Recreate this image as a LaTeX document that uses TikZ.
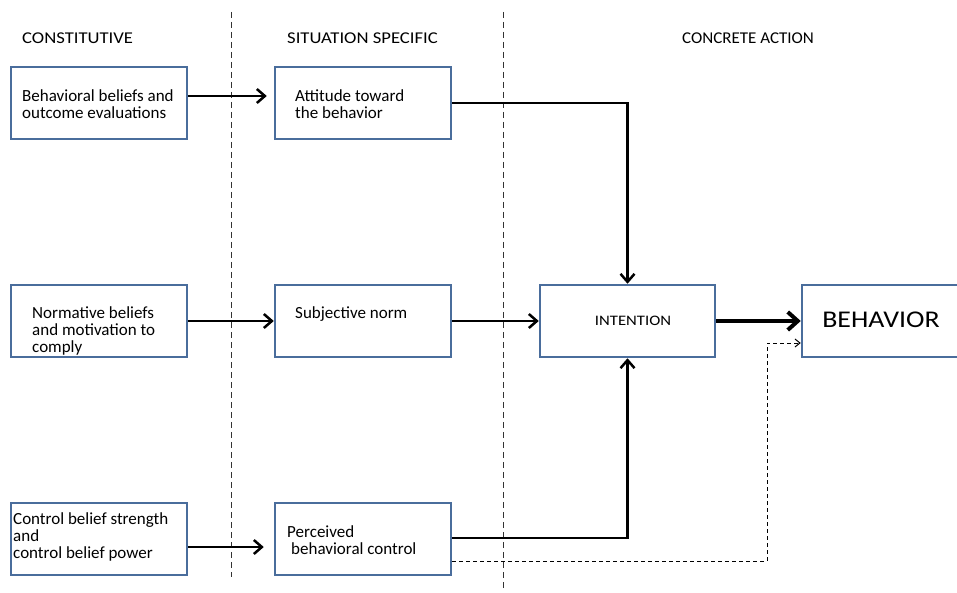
\documentclass[tikz,border=0pt]{standalone}
\usepackage{fontspec}
\setmainfont{Carlito}
\usetikzlibrary{arrows.meta}
\definecolor{boxblue}{HTML}{4A6D9C}
\definecolor{divgray}{HTML}{333333}
\newcommand{\wcaps}[1]{\scalebox{1.13}[1]{#1}}
\begin{document}
\begin{tikzpicture}[x=1pt,y=-1pt,
  box/.style={draw=boxblue, line width=2.5pt, minimum width=176pt, minimum height=72pt, inner sep=0pt},
  txt/.style={anchor=west, align=left, inner sep=0pt, font=\fontsize{17}{17}\selectfont},
  hdr/.style={anchor=west, inner sep=0pt, font=\fontsize{16.5}{17}\selectfont},
  conn/.style={line width=2.5pt, -{Straight Barb[length=8pt,width=14pt]}},
  bigconn/.style={line width=4pt, -{Straight Barb[length=10pt,width=18pt]}},
  dconn/.style={line width=1pt, dash pattern=on 4pt off 3pt, -{Straight Barb[length=5pt,width=8pt]}},
  divider/.style={line width=1pt, draw=divgray, dash pattern=on 6pt off 4pt}
]
\useasboundingbox (0,0) rectangle (957,593);

% dividers
\draw[divider] (231,12) -- (231,577);
\draw[divider] (503,12) -- (503,591);

% headers
\node[hdr] (h1) at (22,38) {\wcaps{CONSTITUTIVE}};
\node[hdr] (h2) at (287,38) {\wcaps{SITUATION SPECIFIC}};
\node[hdr] (h3) at (682,38) {\scalebox{1.03}[1]{CONCRETE ACTION}};

% boxes
\node[box] (B1) at (99,103) {};
\node[box] (A1) at (363,103) {};
\node[box] (B2) at (99,321) {};
\node[box] (A2) at (363,321) {};
\node[box] (B3) at (99,539) {};
\node[box] (A3) at (363,539) {};
\node[box, minimum width=175pt] (INT) at (627.5,321) {};
\node[box, minimum width=162pt] (BEH) at (883,321) {};

% texts
\node[txt] (tB1) at (22,104) {Behavioral beliefs and\\outcome evaluations};
\node[txt] (tA1) at (295,104) {Attitude toward\\the behavior};
\node[txt] (tB2) at (32,331) {Normative beliefs\\and motivation to\\comply};
\node[txt] (tA2) at (295,314) {Subjective norm};
\node[txt] (tB3) at (13,537) {Control belief strength\\and\\control belief power};
\node[txt] (tA3) at (287,540) {Perceived\\\hspace*{4pt}behavioral control};
\node[inner sep=0pt, font=\fontsize{14.5}{17}\selectfont] (tINT) at (633,321) {\scalebox{1.15}[1]{INTENTION}};
\node[inner sep=0pt, font=\fontsize{24}{26}\selectfont] (tBEH) at (881,320) {\scalebox{1.16}[1]{BEHAVIOR}};

% row coordinates
\coordinate (r1) at (0,96);
\coordinate (r3) at (0,547);
\coordinate (r3s) at (0,538);
\coordinate (r3d) at (0,561);
\coordinate (dv) at (767,0);
\coordinate (bd) at (0,343);

% connectors
\draw[conn] (B1.east |- r1) -- ([xshift=-7pt]A1.west |- r1);
\draw[conn] (A1.east) -| (INT.north);
\draw[conn] (B2.east) -- (A2.west);
\draw[conn] (A2.east) -- (INT.west);
\draw[conn] (B3.east |- r3) -- ([xshift=-10pt]A3.west |- r3);
\draw[conn] (A3.east |- r3s) -| (INT.south);
\draw[bigconn] (INT.east) -- (BEH.west);
\draw[dconn] (A3.east |- r3d) -| (dv |- bd) -- (BEH.west |- bd);
\end{tikzpicture}
\end{document}
